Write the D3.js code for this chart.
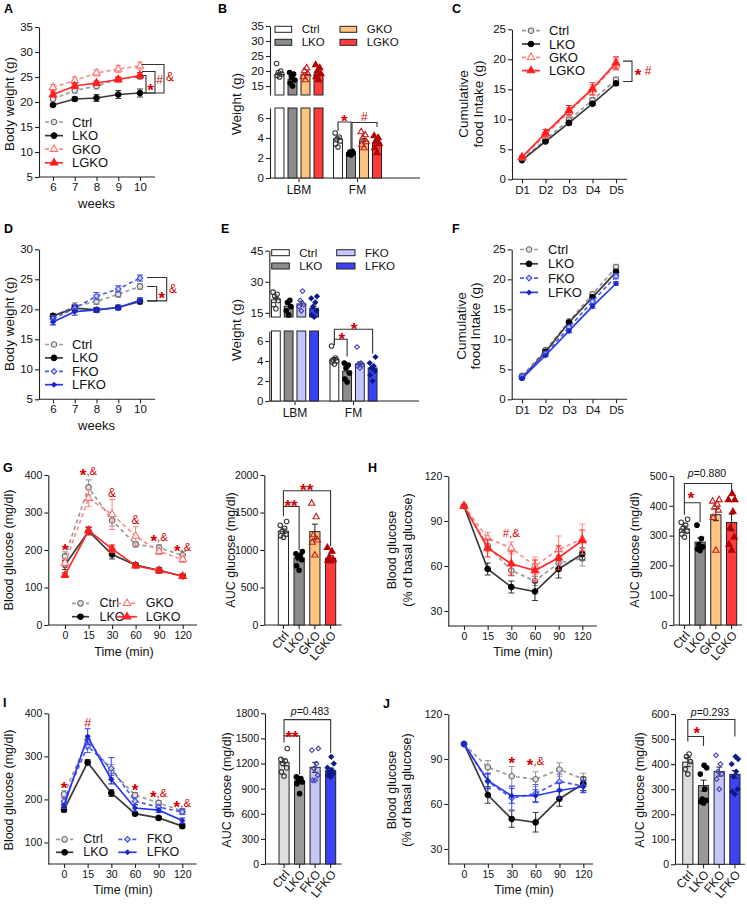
<!DOCTYPE html>
<html>
<head>
<meta charset="utf-8">
<script src="https://cdn.jsdelivr.net/npm/d3@7/dist/d3.min.js"></script>
<style>
html,body{margin:0;padding:0;background:#fff;}
svg text{font-family:"Liberation Sans",Arial,Helvetica,sans-serif;}
</style>
</head>
<body>
<svg id="fig" width="747" height="904"></svg>
<script>
// ---------------- categories ----------------
const weeks = ["6","7","8","9","10"];
const days = ["D1","D2","D3","D4","D5"];
const times = ["0","15","30","60","90","120"];
const groupsG = ["Ctrl","LKO","GKO","LGKO"];
const groupsF = ["Ctrl","LKO","FKO","LFKO"];
const compartments = ["LBM","FM"];

// ---------------- tick labels ----------------
const ticksA = [5,10,15,20,25,30,35];
const ticksBTop = [15,20,25,30,35];
const ticksBBot = [0,2,4,6];
const ticksC = [0,5,10,15,20,25];
const ticksD = [5,10,15,20,25,30];
const ticksETop = [15,30,45];
const ticksEBot = [0,2,4,6];
const ticksF = [0,5,10,15,20,25];
const ticksGluG = [0,100,200,300,400];
const ticksAucG = [0,500,1000,1500,2000];
const ticksPct = [30,60,90,120];
const ticksAucH = [0,100,200,300,400,500];
const ticksGluI = [100,200,300,400];
const ticksAucI = [0,300,600,900,1200,1500,1800];
const ticksAucJ = [0,100,200,300,400,500,600];

// ---------------- A: body weight ----------------
const aCtrl = [20.6,22.3,23.2,24.6,25.1], aCtrlErr = [0.4,0.5,0.6,0.4,0.5];
const aLKO  = [19.4,20.6,20.8,21.5,21.8], aLKOErr  = [0.3,0.4,0.7,0.8,0.8];
const aGKO  = [22.9,24.3,25.8,26.6,27.2], aGKOErr  = [0.6,0.7,0.6,0.7,0.8];
const aLGKO = [21.5,23.2,23.8,24.5,25.3], aLGKOErr = [0.5,0.5,0.4,0.5,0.6];

// ---------------- B: body composition ----------------
const bLBM = [18.8,17.2,18.8,19.0], bLBMErr = [0.6,0.7,0.6,0.6];
const bFM  = [3.9,2.5,3.7,3.5],     bFMErr  = [0.2,0.1,0.25,0.25];
const bLBMPts = [[18,18.5,19,19.5,20,22.5],[15,16,17,18,19,19.5],[17,18,19,20,21],[17,18,19,20,21,22]];
const bFMPts  = [[3.1,3.4,3.7,3.9,4.1,4.5],[2.3,2.4,2.5,2.6,2.7],[3.0,3.3,3.6,4.0,4.3,4.6],[2.5,3.0,3.4,3.7,4.0,4.2]];

// ---------------- C: cumulative food intake ----------------
const cCtrl = [3.3,6.6,9.9,13.2,16.6], cCtrlErr = [0.2,0.2,0.3,0.4,0.4];
const cLKO  = [3.2,6.3,9.4,12.6,16.0], cLKOErr  = [0.1,0.2,0.3,0.3,0.3];
const cGKO  = [3.6,7.4,11.2,14.9,19.1], cGKOErr = [0.2,0.5,0.7,0.9,0.9];
const cLGKO = [3.7,7.7,11.5,15.1,19.4], cLGKOErr = [0.2,0.6,0.8,1.0,1.0];

// ---------------- D: body weight ----------------
const dCtrl = [18.8,20.5,21.3,22.5,23.8], dCtrlErr = [0.4,0.6,0.5,0.5,0.5];
const dLKO  = [18.9,20.2,19.9,20.3,21.3], dLKOErr  = [0.3,0.4,0.4,0.3,0.4];
const dFKO  = [18.4,20.2,22.2,23.4,25.2], dFKOErr  = [0.5,0.6,0.6,0.5,0.5];
const dLFKO = [17.9,19.6,19.9,20.3,21.5], dLFKOErr = [0.5,0.6,0.4,0.4,0.4];

// ---------------- E: body composition ----------------
const eLBM = [21.3,18.2,19.3,17.2], eLBMErr = [1.2,1.0,1.3,1.0];
const eFM  = [4.2,3.0,3.7,3.3],     eFMErr  = [0.15,0.3,0.2,0.2];
const eLBMPts = [[17,19,21,23,24,25],[14,16,18,20,21],[16,18,19,21,25.5],[13,14,16,18,20,22,23]];
const eFMPts  = [[3.7,3.9,4.0,4.1,4.3,5.5],[1.9,2.2,2.8,3.3,3.6,3.8],[3.3,3.5,3.6,3.7,3.8,5.4],[2.0,2.6,3.0,3.3,3.5,3.8,4.4]];

// ---------------- F: cumulative food intake ----------------
const fCtrl = [3.9,8.2,13.0,17.5,22.0], fCtrlErr = [0.2,0.3,0.3,0.4,0.5];
const fLKO  = [3.6,7.9,12.8,17.0,21.2], fLKOErr  = [0.2,0.3,0.3,0.4,0.5];
const fFKO  = [3.8,7.6,12.0,16.3,20.5], fFKOErr  = [0.2,0.3,0.3,0.4,0.4];
const fLFKO = [3.5,7.3,11.4,15.5,19.3], fLFKOErr = [0.2,0.2,0.3,0.3,0.3];

// ---------------- G: GTT ----------------
const gCtrl = [183,367,279,215,206,186], gCtrlErr = [12,20,15,6,8,10];
const gLKO  = [160,250,188,160,146,130], gLKOErr  = [12,10,12,6,8,6];
const gGKO  = [165,338,295,237,196,175], gGKOErr  = [10,22,40,25,8,8];
const gLGKO = [133,252,203,158,145,130], gLGKOErr = [6,10,10,6,6,6];
const gAuc = [1250,895,1245,890], gAucErr = [30,40,100,40];
const gAucPts = [[1170,1190,1210,1250,1290,1330,1380],[730,790,870,900,930,950,980],[930,1100,1130,1200,1440,1620],[850,860,870,900,980,1030]];

// ---------------- H: ITT ----------------
const hCtrl = [100,73.5,57,50,62,65], hCtrlErr = [1,4,3,3,5,5];
const hLKO  = [100,58,46,43,58,68],   hLKOErr  = [1,4,4,6,6,4];
const hGKO  = [100,78.5,72,60,71,78], hGKOErr  = [1,4,4,6,9,10];
const hLGKO = [100,72,61.5,57,65.5,77], hLGKOErr = [1,6,8,7,8,7];
const hAuc = [322,278,370,344], hAucErr = [10,14,20,28];
const hAucPts = [[295,305,315,325,335,345,355],[250,255,262,270,290,335],[250,360,385,395,405,415,420],[250,270,295,325,380,420,420,440]];

// ---------------- I: GTT ----------------
const iCtrl = [212,338,266,210,192,173], iCtrlErr = [8,10,15,6,5,6];
const iLKO  = [176,286,215,167,157,138], iLKOErr  = [5,6,8,5,4,5];
const iFKO  = [196,324,272,196,182,171], iFKOErr  = [8,15,25,8,6,6];
const iLFKO = [185,346,246,180,175,151], iLFKOErr = [6,18,10,8,5,6];
const iAuc = [1215,990,1155,1115], iAucErr = [40,25,60,30];
const iAucPts = [[1050,1100,1150,1200,1230,1250,1380],[840,960,980,1000,1020,1040],[1000,1000,1060,1140,1200,1360,1380],[1040,1060,1080,1100,1120,1150,1200,1280]];

// ---------------- J: ITT ----------------
const jCtrl = [100,84.5,78.5,76.5,83,76.5], jCtrlErr = [1,4.5,6.5,5,4.5,4];
const jLKO  = [100,66,50,47.8,63.5,73.5],   jLKOErr  = [1,5.5,5.5,6.5,5,4.5];
const jFKO  = [100,75,64,67,75,72],         jFKOErr  = [1,5,8,6,5,4];
const jLFKO = [100,75.5,65.5,65.5,69,71.5], jLFKOErr = [1,5,5,4,5,4];
const jAuc = [408,314,370,359], jAucErr = [18,22,18,15];
const jAucPts = [[360,380,410,430,440],[245,250,255,260,300,360,385,395],[300,340,360,370,400,435],[280,290,300,350,370,400,420,430]];

// ================= drawing =================
const svg = d3.select("#fig");
const RED = "#d40000";
const AXC = "#222";
const FMT = d3.format("d");

const ST = {
  Ctrl: {line:"#9b9b9b", dash:"4,3", shape:"circle",   fill:"#e2e2e2", stroke:"#666", sz:24},
  LKO:  {line:"#3a3a3a", dash:null,  shape:"circle",   fill:"#000",    stroke:"#000", sz:24},
  GKO:  {line:"#ff8c8c", dash:"4,3", shape:"triangle", fill:"#fff",    stroke:"#ff6f6f", sz:24},
  LGKO: {line:"#ff2b2b", dash:null,  shape:"triangle", fill:"#ff1f1f", stroke:"#ff1f1f", sz:24},
  FKO:  {line:"#4d5cf0", dash:"4,3", shape:"diamond",  fill:"#c9cdfb", stroke:"#3f4fe0", sz:16},
  LFKO: {line:"#2a37f2", dash:null,  shape:"diamond",  fill:"#1a28c0", stroke:"#1a28c0", sz:10}
};
const BAR = {Ctrl:"#ffffff", LKO:"#8c8c8c", GKO:"#ffc47f", LGKO:"#ff3b3b", FKO:"#c3c6fb", LFKO:"#3a44f5"};
const DOT = {
  Ctrl: {shape:"circle",   fill:"none",    stroke:"#333", sz:16},
  LKO:  {shape:"circle",   fill:"#000",    stroke:"#000", sz:16},
  GKO:  {shape:"triangle", fill:"none",    stroke:"#c81e1e", sz:17},
  LGKO: {shape:"triangle", fill:"#b30000", stroke:"#b30000", sz:17},
  FKO:  {shape:"diamond",  fill:"none",    stroke:"#3d3db8", sz:11},
  LFKO: {shape:"diamond",  fill:"#0d1a8c", stroke:"#0d1a8c", sz:11}
};
const JIT = [0,-2.6,2.6,-1.3,1.3,-3.2,3.2,0.6];

function symPath(shape, size){
  if (shape==="circle") return d3.symbol(d3.symbolCircle, size)();
  if (shape==="triangle") return d3.symbol(d3.symbolTriangle, size)();
  return d3.symbol(d3.symbolSquare, size)();
}
function drawSym(g, st, cx, cy){
  g.append("path").attr("d", symPath(st.shape, st.sz))
    .attr("transform", `translate(${cx},${cy}) rotate(${st.shape==="diamond"?45:0})`)
    .attr("fill", st.fill).attr("stroke", st.stroke).attr("stroke-width", 1.1);
}
function styleAxis(sel, fs){
  sel.selectAll("path,line").attr("stroke", AXC).attr("stroke-width", 1.1);
  sel.selectAll("text").attr("font-size", fs).attr("fill", "#111");
}
function yTitle(lines, x0, cy, fs, gap){
  lines.forEach((t,i)=>{
    svg.append("text").attr("transform", `translate(${x0 + i*gap},${cy}) rotate(-90)`)
      .attr("text-anchor","middle").attr("dominant-baseline","central")
      .attr("font-size", fs).attr("fill","#111").text(t);
  });
}
function label(t, x, y, fs, anchor="middle"){
  return svg.append("text").attr("x",x).attr("y",y).attr("text-anchor",anchor)
    .attr("font-size",fs).attr("fill","#111").text(t);
}
function letter(t, x, y){
  svg.append("text").attr("x",x).attr("y",y).attr("font-size",12.5).attr("font-weight","bold").attr("fill","#000").text(t);
}
function sig(x, y, s, big=17, small=11.5){
  const t = svg.append("text").attr("x",x).attr("y",y+4).attr("text-anchor","middle").attr("fill",RED);
  let shifted = false;
  for (const ch of s){
    const sp = t.append("tspan").text(ch);
    if (ch==="*"){ sp.attr("font-size",big).attr("font-weight","bold").attr("dy", shifted?0:6); shifted = true; }
    else { sp.attr("font-size",small).attr("dy", shifted?-6:0); shifted = false; }
  }
}
function bracketPath(d){
  svg.append("path").attr("d", d).attr("fill","none").attr("stroke","#333").attr("stroke-width",1.1);
}
function topBracket(x1, x2, yTop, y1b, y2b){
  bracketPath(`M${x1},${y1b}V${yTop}H${x2}V${y2b}`);
}
function sideBracket(xa, xv, y1, y2){
  bracketPath(`M${xa},${y1}H${xv}V${y2}H${xa}`);
}

function linePanel(o){
  const g = svg.append("g");
  const x = d3.scalePoint().domain(o.cats).range(o.xr);
  const y = d3.scaleLinear().domain(o.yd).range([o.ay, o.yTop]);
  const ya = g.append("g").attr("transform",`translate(${o.ax},0)`)
    .call(d3.axisLeft(y).tickValues(o.yt).tickFormat(FMT).tickSize(4).tickSizeOuter(0).tickPadding(2));
  styleAxis(ya, o.fs);
  const xa = g.append("g").attr("transform",`translate(0,${o.ay})`)
    .call(d3.axisBottom(x).tickSize(4).tickPadding(o.xpad||3));
  xa.select(".domain").remove();
  styleAxis(xa, o.fs);
  g.append("line").attr("x1",o.ax).attr("x2",o.axEnd).attr("y1",o.ay).attr("y2",o.ay)
    .attr("stroke",AXC).attr("stroke-width",1.1);
  const line = d3.line().x((d,i)=>x(o.cats[i])).y(d=>y(d));
  o.series.forEach(s=>{
    const st = ST[s.name];
    const sg = g.append("g");
    s.v.forEach((v,i)=>{
      const cx = x(o.cats[i]);
      const y1 = y(v - s.e[i]), y2 = y(v + s.e[i]);
      sg.append("path").attr("d",`M${cx},${y1}V${y2}M${cx-3},${y1}H${cx+3}M${cx-3},${y2}H${cx+3}`)
        .attr("stroke", st.line).attr("stroke-width",1.1).attr("fill","none");
    });
    sg.append("path").attr("d", line(s.v)).attr("fill","none").attr("stroke",st.line)
      .attr("stroke-width",1.7).attr("stroke-dasharray", st.dash);
    s.v.forEach((v,i)=> drawSym(sg, st, x(o.cats[i]), y(v)));
  });
  return {x, y};
}

function lineLegend(names, x1, x2, tx, y0, dy, fs){
  names.forEach((n,i)=>{
    const st = ST[n], yy = y0 + i*dy;
    svg.append("line").attr("x1",x1).attr("x2",x2).attr("y1",yy).attr("y2",yy)
      .attr("stroke",st.line).attr("stroke-width",1.7).attr("stroke-dasharray",st.dash);
    drawSym(svg, st, (x1+x2)/2, yy);
    svg.append("text").attr("x",tx).attr("y",yy).attr("dominant-baseline","central")
      .attr("font-size",fs).attr("fill","#111").text(n);
  });
}

function aucPanel(o){
  const g = svg.append("g");
  const x = d3.scaleBand().domain(o.groups).range(o.xr).paddingInner(0.35);
  const bw = x.bandwidth();
  const y = d3.scaleLinear().domain(o.yd).range([o.ay, o.yTop]);
  const ya = g.append("g").attr("transform",`translate(${o.ax},0)`)
    .call(d3.axisLeft(y).tickValues(o.yt).tickFormat(FMT).tickSize(4).tickSizeOuter(0).tickPadding(2));
  styleAxis(ya, o.fs);
  g.append("line").attr("x1",o.ax).attr("x2",o.axEnd).attr("y1",o.ay).attr("y2",o.ay)
    .attr("stroke",AXC).attr("stroke-width",1.1);
  o.groups.forEach((k,i)=>{
    const cx = x(k) + bw/2, v = o.v[i], e = o.e[i];
    const fill = (o.fills && o.fills[k]) || BAR[k];
    g.append("rect").attr("x",x(k)).attr("y",y(v)).attr("width",bw).attr("height",o.ay-y(v))
      .attr("fill",fill).attr("stroke","#222").attr("stroke-width",1);
    g.append("path").attr("d",`M${cx},${y(v-e)}V${y(v+e)}M${cx-3},${y(v+e)}H${cx+3}M${cx-3},${y(v-e)}H${cx+3}`)
      .attr("stroke","#222").attr("stroke-width",1).attr("fill","none");
    o.pts[i].forEach((p,j)=> drawSym(g, DOT[k], cx + JIT[j%JIT.length], y(p)));
    g.append("line").attr("x1",cx).attr("x2",cx).attr("y1",o.ay).attr("y2",o.ay+4).attr("stroke",AXC).attr("stroke-width",1.1);
    g.append("text").attr("transform",`translate(${cx+3},${o.ay+8}) rotate(-50)`)
      .attr("text-anchor","end").attr("dominant-baseline","central")
      .attr("font-size",o.lfs).attr("fill","#111").text(k);
  });
  return {x, y, c: k => x(k) + bw/2};
}

function brokenPanel(o){
  const g = svg.append("g");
  const xg = d3.scalePoint().domain(compartments).range(o.gx);
  const xb = d3.scaleBand().domain(o.groups).range([-o.half, o.half]).paddingInner(0.31);
  const bw = xb.bandwidth();
  const yT = d3.scaleLinear().domain(o.topD).range(o.topR);
  const yB = d3.scaleLinear().domain(o.botD).range(o.botR);
  const a1 = g.append("g").attr("transform",`translate(${o.ax},0)`)
    .call(d3.axisLeft(yT).tickValues(o.topT).tickFormat(FMT).tickSize(4).tickSizeOuter(0).tickPadding(2));
  const a2 = g.append("g").attr("transform",`translate(${o.ax},0)`)
    .call(d3.axisLeft(yB).tickValues(o.botT).tickFormat(FMT).tickSize(4).tickSizeOuter(0).tickPadding(2));
  styleAxis(a1, o.fs); styleAxis(a2, o.fs);
  const ay = o.botR[0];
  g.append("line").attr("x1",o.ax).attr("x2",o.axEnd).attr("y1",ay).attr("y2",ay).attr("stroke",AXC).attr("stroke-width",1.1);
  compartments.forEach(c=>{
    g.append("line").attr("x1",xg(c)).attr("x2",xg(c)).attr("y1",ay).attr("y2",ay+4).attr("stroke",AXC).attr("stroke-width",1.1);
    g.append("text").attr("x",xg(c)).attr("y",ay+16).attr("text-anchor","middle").attr("font-size",o.fs+0.5).attr("fill","#111").text(c);
  });
  const data = {LBM:[o.lbm,o.lbmE,o.lbmP], FM:[o.fm,o.fmE,o.fmP]};
  compartments.forEach(c=>{
    const [mv, me, mp] = data[c];
    o.groups.forEach((k,i)=>{
      const x0 = xg(c) + xb(k), cx = x0 + bw/2, v = mv[i], e = me[i];
      const yb = yB(Math.min(v, o.botD[1]));
      g.append("rect").attr("x",x0).attr("y",yb).attr("width",bw).attr("height",ay-yb)
        .attr("fill",BAR[k]).attr("stroke","#222").attr("stroke-width",1);
      let ys = yB;
      if (v > o.topD[0]){
        ys = yT;
        g.append("rect").attr("x",x0).attr("y",yT(v)).attr("width",bw).attr("height",yT(o.topD[0])-yT(v))
          .attr("fill",BAR[k]).attr("stroke","#222").attr("stroke-width",1);
      }
      g.append("path").attr("d",`M${cx},${ys(v-e)}V${ys(v+e)}M${cx-2.5},${ys(v+e)}H${cx+2.5}`)
        .attr("stroke","#222").attr("stroke-width",1).attr("fill","none");
      mp[i].forEach((p,j)=> drawSym(g, DOT[k], cx + JIT[j%JIT.length]*0.9, ys(p)));
    });
  });
  return {xg, xb, bw, yT, yB, c:(comp,k)=> xg(comp)+xb(k)+bw/2};
}

function barLegend(items, x1, w, tx, y0, dy, fs){
  items.forEach((n,i)=>{
    const yy = y0 + i*dy;
    svg.append("rect").attr("x",x1).attr("y",yy-3).attr("width",w).attr("height",6)
      .attr("fill",BAR[n]).attr("stroke","#222").attr("stroke-width",1);
    svg.append("text").attr("x",tx).attr("y",yy).attr("dominant-baseline","central")
      .attr("font-size",fs).attr("fill","#111").text(n);
  });
}

// ========== Panel A ==========
letter("A", 4, 13);
const pA = linePanel({cats:weeks, xr:[53,140], ax:39, ay:177, axEnd:155, yd:[5,35], yTop:27, yt:ticksA, fs:11.5, xpad:2,
  series:[{name:"Ctrl",v:aCtrl,e:aCtrlErr},{name:"LKO",v:aLKO,e:aLKOErr},{name:"GKO",v:aGKO,e:aGKOErr},{name:"LGKO",v:aLGKO,e:aLGKOErr}]});
yTitle(["Body weight (g)"], 9, 104, 13.5, 0);
label("weeks", 96.5, 208, 13);
lineLegend(groupsG, 45, 63, 72, 122, 13.6, 13);
sideBracket(142, 146, pA.y(aLGKO[4]), pA.y(aLKO[4]));
sideBracket(142, 155, pA.y(26.1), pA.y(aLKO[4]));
sideBracket(142, 164, pA.y(aGKO[4]+0.3), pA.y(aLKO[4]));
sig(150.5, pA.y(23.3), "*");
sig(159.5, pA.y(24.5), "#", 17, 12);
sig(170, pA.y(25.0), "&", 17, 12);

// ========== Panel B ==========
letter("B", 218, 13);
const pB = brokenPanel({groups:groupsG, gx:[299,357.5], half:24, ax:270, axEnd:420,
  topD:[12,35], topR:[95,26], botD:[0,7], botR:[178,108], topT:ticksBTop, botT:ticksBBot, fs:11.5,
  lbm:bLBM, lbmE:bLBMErr, lbmP:bLBMPts, fm:bFM, fmE:bFMErr, fmP:bFMPts});
yTitle(["Weight (g)"], 236.5, 104, 13.5, 0);
barLegend(["Ctrl","LKO"], 275, 16.7, 301.7, 29.3, 13, 11.5);
barLegend(["GKO","LGKO"], 340, 16.7, 366.7, 29.3, 13, 11.5);
topBracket(pB.c("FM","Ctrl"), pB.c("FM","LKO"), pB.yB(5.6), pB.yB(4.7), pB.yB(3.0));
topBracket(pB.c("FM","LKO")+1, pB.c("FM","LGKO"), pB.yB(5.55), pB.yB(3.0), pB.yB(5.1));
sig(344.3, pB.yB(6.1), "*");
sig(364.3, pB.yB(6.1), "#", 17, 12);

// ========== Panel C ==========
letter("C", 452, 13);
const pC = linePanel({cats:days, xr:[522,616], ax:512, ay:179.3, axEnd:627, yd:[0,25], yTop:29.3, yt:ticksC, fs:11.5, xpad:3,
  series:[{name:"Ctrl",v:cCtrl,e:cCtrlErr},{name:"LKO",v:cLKO,e:cLKOErr},{name:"GKO",v:cGKO,e:cGKOErr},{name:"LGKO",v:cLGKO,e:cLGKOErr}]});
yTitle(["Cumulative","food Intake (g)"], 463, 104, 13.5, 15);
lineLegend(groupsG, 522, 540, 549, 30.7, 13.3, 13);
sideBracket(623, 632, pC.y(19.7), pC.y(16.3));
sig(643, pC.y(18.0), "* #", 17, 12);

// ========== Panel D ==========
letter("D", 4, 233);
const pD = linePanel({cats:weeks, xr:[53,140], ax:39, ay:399.3, axEnd:155, yd:[5,30], yTop:249.3, yt:ticksD, fs:11.5, xpad:2,
  series:[{name:"Ctrl",v:dCtrl,e:dCtrlErr},{name:"LKO",v:dLKO,e:dLKOErr},{name:"FKO",v:dFKO,e:dFKOErr},{name:"LFKO",v:dLFKO,e:dLFKOErr}]});
yTitle(["Body weight (g)"], 9, 324, 13.5, 0);
label("weeks", 96.5, 430, 13);
lineLegend(groupsF, 45, 63, 72, 344.5, 13.4, 13);
sideBracket(147, 166.7, pD.y(25.3), pD.y(21.4));
sideBracket(147, 156.7, pD.y(23.8), pD.y(21.4));
sig(161.7, pD.y(22.6), "*");
sig(173, pD.y(23.4), "&", 17, 12);

// ========== Panel E ==========
letter("E", 221, 233);
const pE = brokenPanel({groups:groupsF, gx:[295,353.5], half:23.5, ax:269.3, axEnd:419,
  topD:[13,45], topR:[317,250.7], botD:[0,7], botR:[401,331], topT:ticksETop, botT:ticksEBot, fs:11.5,
  lbm:eLBM, lbmE:eLBMErr, lbmP:eLBMPts, fm:eFM, fmE:eFMErr, fmP:eFMPts});
yTitle(["Weight (g)"], 236.5, 330, 13.5, 0);
barLegend(["Ctrl","LKO"], 271.7, 17.6, 299.3, 252.7, 13.3, 11.5);
barLegend(["FKO","LFKO"], 336.7, 18.3, 365, 252.7, 13.3, 11.5);
topBracket(pE.c("FM","Ctrl"), pE.c("FM","LFKO"), pE.yB(7.17), pE.yB(5.6), pE.yB(4.75));
topBracket(pE.c("FM","Ctrl"), pE.c("FM","LKO"), pE.yB(6.17), pE.yB(5.6), pE.yB(4.45));
sig(341.7, pE.yB(6.6), "*");
sig(354, pE.yB(7.6), "*");

// ========== Panel F ==========
letter("F", 452, 233);
const pF = linePanel({cats:days, xr:[522,616], ax:511.7, ay:399.3, axEnd:627, yd:[0,25], yTop:249.3, yt:ticksF, fs:11.5, xpad:3,
  series:[{name:"Ctrl",v:fCtrl,e:fCtrlErr},{name:"LKO",v:fLKO,e:fLKOErr},{name:"FKO",v:fFKO,e:fFKOErr},{name:"LFKO",v:fLFKO,e:fLFKOErr}]});
yTitle(["Cumulative","food Intake (g)"], 461, 326, 13.5, 14.5);
lineLegend(groupsF, 520, 538, 548, 249.5, 14.3, 13);

// ========== Panel G ==========
letter("G", 3, 472);
const pG = linePanel({cats:times, xr:[65,182.7], ax:48.3, ay:625, axEnd:197, yd:[0,400], yTop:475, yt:ticksGluG, fs:10.5,
  series:[{name:"Ctrl",v:gCtrl,e:gCtrlErr},{name:"LKO",v:gLKO,e:gLKOErr},{name:"GKO",v:gGKO,e:gGKOErr},{name:"LGKO",v:gLGKO,e:gLGKOErr}]});
yTitle(["Blood glucose (mg/dl)"], 8.5, 550, 12.5, 0);
label("Time (min)", 124, 656, 12.5);
lineLegend(["Ctrl","LKO"], 72, 89, 99.5, 603.3, 13.4, 12.5);
lineLegend(["GKO","LGKO"], 117, 137, 145.7, 603.3, 13.4, 12.5);
sig(pG.x("0"), pG.y(212), "*");
sig(pG.x("15"), pG.y(410), "*,&");
sig(pG.x("30"), pG.y(353), "&", 17, 12);
sig(pG.x("60"), pG.y(281), "&", 17, 12);
sig(pG.x("90"), pG.y(236), "*,&");
sig(pG.x("120"), pG.y(209), "*,&");

const aG = aucPanel({groups:groupsG, xr:[278.3,335.7], ax:264.3, ay:625, axEnd:341.7, yd:[0,2000], yTop:475, yt:ticksAucG, fs:10.5, lfs:12,
  v:gAuc, e:gAucErr, pts:gAucPts});
yTitle(["AUC glucose (mg/dl)"], 231, 550, 12.5, 0);
topBracket(aG.c("Ctrl"), aG.c("LKO"), aG.y(1580), aG.y(1450), aG.y(1000));
topBracket(aG.c("Ctrl"), aG.c("LGKO"), aG.y(1790), aG.y(1580), aG.y(1050));
sig(291, aG.y(1640), "**");
sig(306.7, aG.y(1850), "**");

// ========== Panel H ==========
letter("H", 368, 472);
const pH = linePanel({cats:times, xr:[464,582.3], ax:448.3, ay:626, axEnd:597, yd:[20,120], yTop:476, yt:ticksPct, fs:10.5,
  series:[{name:"Ctrl",v:hCtrl,e:hCtrlErr},{name:"LKO",v:hLKO,e:hLKOErr},{name:"GKO",v:hGKO,e:hGKOErr},{name:"LGKO",v:hLGKO,e:hLGKOErr}]});
yTitle(["Blood glucose","(% of basal glucose)"], 392, 550, 12.5, 15.5);
label("Time (min)", 523, 656, 12.5);
sig(pH.x("30"), pH.y(82.2), "#,&", 17, 11.5);

const aH = aucPanel({groups:groupsG, xr:[679.3,736.7], ax:673.3, ay:625, axEnd:742, yd:[0,500], yTop:476, yt:ticksAucH, fs:10.5, lfs:12,
  v:hAuc, e:hAucErr, pts:hAucPts});
yTitle(["AUC glucose (mg/dl)"], 635, 550, 12.5, 0);
topBracket(aH.c("Ctrl"), aH.c("LKO"), aH.y(410), aH.y(370), aH.y(345));
topBracket(aH.c("Ctrl"), aH.c("LGKO"), aH.y(475), aH.y(410), aH.y(445));
sig(691, aH.y(440), "*");
svg.append("text").attr("x",707).attr("y",aH.y(497)).attr("text-anchor","middle").attr("font-size",10.5).attr("fill","#111")
  .html('<tspan font-style="italic">p</tspan>=0.880');

// ========== Panel I ==========
letter("I", 3, 707);
const pI = linePanel({cats:times, xr:[64,182.3], ax:48.3, ay:864, axEnd:196.7, yd:[50,400], yTop:713.3, yt:ticksGluI, fs:10.5,
  series:[{name:"Ctrl",v:iCtrl,e:iCtrlErr},{name:"LKO",v:iLKO,e:iLKOErr},{name:"FKO",v:iFKO,e:iFKOErr},{name:"LFKO",v:iLFKO,e:iLFKOErr}]});
yTitle(["Blood glucose (mg/dl)"], 8.5, 790, 12.5, 0);
label("Time (min)", 123, 894, 12.5);
lineLegend(["Ctrl","LKO"], 56, 73.3, 83.3, 839.3, 13, 12.5);
lineLegend(["FKO","LFKO"], 118.3, 136.7, 146.7, 839.3, 13, 12.5);
sig(pI.x("0"), pI.y(236), "*");
sig(pI.x("15"), pI.y(377), "#", 17, 12.5);
sig(pI.x("60"), pI.y(232), "*");
sig(pI.x("90"), pI.y(214), "*,&");
sig(pI.x("120"), pI.y(191), "*,&");

const aI = aucPanel({groups:groupsF, xr:[279,335.7], ax:265, ay:864, axEnd:341.7, yd:[0,1800], yTop:713.3, yt:ticksAucI, fs:10.5, lfs:12,
  v:iAuc, e:iAucErr, pts:iAucPts, fills:{Ctrl:"#dedede", LKO:"#9a9a9a"}});
yTitle(["AUC glucose (mg/dl)"], 226.7, 790, 12.5, 0);
topBracket(aI.c("Ctrl"), aI.c("LKO"), aI.y(1530), aI.y(1450), aI.y(1070));
topBracket(aI.c("Ctrl"), aI.c("LFKO"), aI.y(1725), aI.y(1530), aI.y(1325));
sig(292, aI.y(1570), "**");
svg.append("text").attr("x",310).attr("y",aI.y(1785)).attr("text-anchor","middle").attr("font-size",10.5).attr("fill","#111")
  .html('<tspan font-style="italic">p</tspan>=0.483');

// ========== Panel J ==========
letter("J", 383, 708);
const pJ = linePanel({cats:times, xr:[464,583.3], ax:448.3, ay:864, axEnd:593, yd:[20,120], yTop:714, yt:ticksPct, fs:10.5,
  series:[{name:"Ctrl",v:jCtrl,e:jCtrlErr},{name:"LKO",v:jLKO,e:jLKOErr},{name:"FKO",v:jFKO,e:jFKOErr},{name:"LFKO",v:jLFKO,e:jLFKOErr}]});
yTitle(["Blood glucose","(% of basal glucose)"], 391.7, 790, 12.5, 15);
label("Time (min)", 524, 894, 12.5);
sig(pJ.x("30"), pJ.y(90), "*");
sig(pJ.x("60"), pJ.y(88.5), "*,&");

const aJ = aucPanel({groups:groupsF, xr:[682.7,740], ax:675, ay:864.3, axEnd:745, yd:[0,600], yTop:714, yt:ticksAucJ, fs:10.5, lfs:12,
  v:jAuc, e:jAucErr, pts:jAucPts, fills:{Ctrl:"#dcdcdc", LKO:"#999999"}});
yTitle(["AUC glucose (mg/dl)"], 640, 790, 12.5, 0);
topBracket(aJ.c("Ctrl"), aJ.c("LKO"), aJ.y(510), aJ.y(490), aJ.y(472));
topBracket(aJ.c("Ctrl"), aJ.c("LFKO"), aJ.y(578), aJ.y(510), aJ.y(510));
sig(696.7, aJ.y(540), "*");
svg.append("text").attr("x",710).attr("y",aJ.y(593)).attr("text-anchor","middle").attr("font-size",10.5).attr("fill","#111")
  .html('<tspan font-style="italic">p</tspan>=0.293');
</script>
</body>
</html>
